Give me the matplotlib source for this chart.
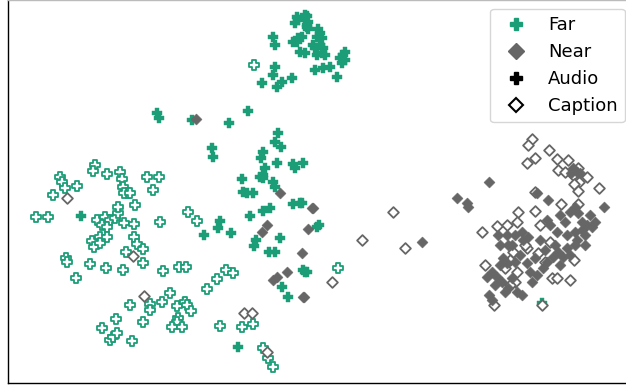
import matplotlib
matplotlib.use("Agg")
import matplotlib.pyplot as plt
from matplotlib.lines import Line2D

# 2-D embedding of audio clips and captions, coloured by recording distance
far_audio_x = [297, 307, 295, 308, 298, 307, 308, 318, 320, 317, 322, 273, 275, 293, 298, 302, 297,
               313, 315, 320, 323, 300, 305, 317, 322, 325, 340, 343, 345, 342, 345, 315, 323, 330,
               337, 275, 273, 262, 277, 282, 292, 305, 307,
               157, 159, 192, 229, 248, 212, 213, 278, 275, 281, 263, 261, 277, 293, 295, 303,
               265, 263, 260, 263, 242, 243, 247, 253, 273, 275, 293, 300, 302, 250, 263, 270,
               220, 218, 204, 231, 319, 317, 256, 254, 280, 269, 275, 282, 288, 303, 307, 305,
               238, 81, 184, 542]
far_audio_y = [17, 16, 23, 22, 20, 27, 29, 29, 33, 37, 38, 37, 45, 42, 38, 37, 42,
               45, 48, 45, 48, 52, 53, 55, 53, 55, 58, 55, 52, 63, 60, 70, 68, 67,
               77, 67, 75, 83, 87, 82, 78, 15, 25,
               113, 118, 120, 123, 111, 148, 157, 133, 142, 147, 152, 158, 163, 164, 168, 163,
               168, 175, 177, 178, 179, 192, 193, 193, 182, 187, 204, 203, 203, 216, 211, 208,
               221, 228, 235, 233, 225, 227, 240, 246, 238, 252, 252, 287, 297, 270, 272, 272,
               347, 216, 302, 303]

far_caption_x = [254, 53, 60, 62, 65, 77, 95, 93, 107, 120, 122, 123, 128, 147, 159, 153,
                 124, 130, 36, 48, 97, 105, 110, 102, 107, 115, 118, 118, 124, 135, 134, 160,
                 188, 197, 92, 94, 100, 100, 107, 134, 137, 143, 126, 66, 67, 90, 106, 123,
                 143, 163, 179, 186, 76, 130, 150, 150, 162, 170, 177, 185, 187, 191, 116,
                 102, 143, 178, 177, 172, 182, 110, 113, 117, 132, 207, 217, 226, 233, 220,
                 242, 253, 263, 268, 273, 338]
far_caption_y = [65, 195, 177, 182, 188, 186, 165, 171, 174, 172, 179, 187, 193, 177, 177, 190,
                 193, 193, 217, 217, 220, 217, 220, 225, 227, 218, 213, 207, 223, 205, 224, 222,
                 212, 221, 241, 247, 237, 243, 237, 237, 244, 249, 252, 258, 262, 264, 268, 270,
                 263, 271, 267, 267, 278, 305, 304, 310, 302, 293, 306, 302, 305, 311, 319,
                 328, 322, 318, 322, 327, 327, 340, 337, 333, 341, 289, 279, 270, 273, 326,
                 327, 324, 348, 358, 367, 268]

near_caption_x = [67, 133, 144, 244, 252, 267, 332, 362, 393, 405,
                  532, 528, 535, 527, 549, 557, 568, 558, 565, 578, 573, 579, 574, 587, 578,
                  599, 535, 561, 578, 482, 497, 518, 535, 517, 507, 540, 550, 513, 510, 485,
                  505, 527, 538, 545, 574, 552, 557, 570, 517, 515, 494, 510, 525, 542]
near_caption_y = [198, 256, 296, 313, 313, 352, 282, 240, 212, 248,
                  139, 145, 158, 163, 150, 159, 160, 170, 172, 168, 175, 182, 184, 177, 191,
                  188, 192, 204, 204, 232, 226, 212, 211, 222, 225, 225, 242, 252, 260, 265,
                  268, 248, 253, 262, 260, 278, 278, 280, 272, 282, 305, 285, 245, 305]

near_audio_x = [196, 280, 312, 267, 262, 308, 302, 273, 277, 287, 303, 304, 313, 422,
                457, 467, 468, 489, 604, 537,
                573, 577, 571, 580, 575, 570, 578, 582, 587, 592, 582, 575, 547, 550, 557,
                567, 577, 575, 567, 558, 553, 547, 543, 537, 563, 498, 507, 515, 522, 528,
                523, 508, 503, 507, 527, 530, 492, 487, 497, 502, 508, 517, 522, 505, 489,
                492, 548,
                560, 565, 585, 590, 555, 545, 535, 520, 515, 500, 495, 512, 532, 540, 560,
                585, 570, 595, 512, 500]
near_audio_y = [119, 193, 208, 225, 232, 229, 253, 280, 277, 272, 297, 297, 208, 242,
                198, 203, 207, 182, 207, 193,
                168, 172, 173, 173, 207, 212, 213, 222, 225, 227, 230, 232, 220, 225, 232,
                235, 240, 245, 248, 252, 257, 262, 268, 275, 257, 235, 235, 235, 232, 237,
                240, 245, 258, 263, 263, 272, 272, 277, 277, 282, 288, 292, 295, 292, 295,
                300, 200,
                215, 222, 235, 215, 245, 250, 258, 255, 262, 265, 285, 278, 282, 240, 265,
                245, 255, 222, 245, 245]

legend_labels = ["Far", "Near", "Audio", "Caption"]

FAR_COLOR = "#1b9e77"
NEAR_COLOR = "#666666"

fig = plt.figure(figsize=(6.26, 3.87), dpi=100)
ax = fig.add_axes([8 / 626, 4 / 387, 626 / 626, 383.3 / 387])

ax.scatter(far_audio_x, far_audio_y, marker="P", s=50, color=FAR_COLOR, linewidths=0.3,
           edgecolors=FAR_COLOR, zorder=2)
ax.scatter(far_caption_x, far_caption_y, marker="P", s=46, facecolors="white",
           edgecolors=FAR_COLOR, linewidths=1.3, zorder=2)
ax.scatter(near_caption_x, near_caption_y, marker="D", s=30, facecolors="white",
           edgecolors=NEAR_COLOR, linewidths=1.3, zorder=3)
ax.scatter(near_audio_x, near_audio_y, marker="D", s=32, color=NEAR_COLOR, linewidths=0.3,
           edgecolors=NEAR_COLOR, zorder=3)

ax.set_xlim(8, 634)
ax.set_ylim(383, 0)
ax.set_xticks([])
ax.set_yticks([])
for side in ax.spines.values():
    side.set_linewidth(1.0)
ax.spines["top"].set_color("#bbbbbb")

handles = [
    Line2D([], [], linestyle="none", marker="P", markersize=9, color=FAR_COLOR),
    Line2D([], [], linestyle="none", marker="D", markersize=8, color=NEAR_COLOR),
    Line2D([], [], linestyle="none", marker="P", markersize=9, color="black"),
    Line2D([], [], linestyle="none", marker="D", markersize=7.5, markerfacecolor="white",
           markeredgecolor="black", markeredgewidth=1.5),
]
ax.legend(handles, legend_labels, loc="upper right", fontsize=13, labelspacing=0.5,
          handletextpad=0.8, borderpad=0.4, framealpha=0.8)

fig.savefig("out.png", dpi=100)
